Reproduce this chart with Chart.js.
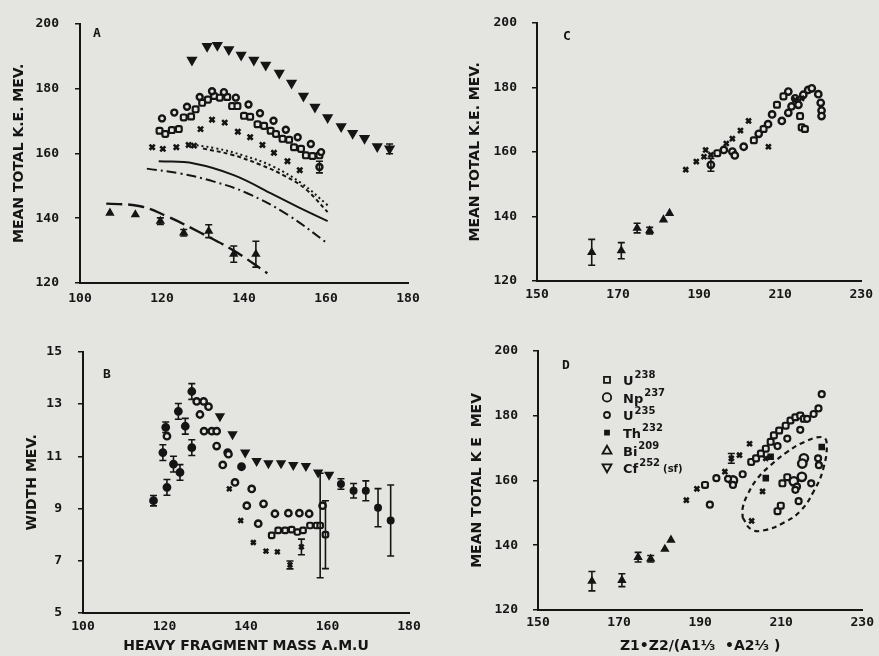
<!DOCTYPE html>
<html>
<head>
<meta charset="utf-8">
<script src="https://cdn.jsdelivr.net/npm/chart.js@4/dist/chart.umd.min.js"></script>
<style>
  body { margin: 0; background: #e4e4e0; }
  #wrap { position: relative; width: 879px; height: 656px; overflow: hidden; }
  canvas { position: absolute; }
</style>
</head>
<body>
<div id="wrap">
  <canvas id="panelA" width="440" height="320" style="left:0;top:0"></canvas>
  <canvas id="panelB" width="440" height="328" style="left:0;top:328px"></canvas>
  <canvas id="panelC" width="439" height="320" style="left:440px;top:0"></canvas>
  <canvas id="panelD" width="439" height="328" style="left:440px;top:328px"></canvas>
</div>
<script>
// ---- Panel A: mean total KE vs heavy fragment mass ----
const aCfX = [127.3, 131.0, 133.5, 136.3, 139.3, 142.4, 145.3, 148.6, 151.6, 154.5, 157.3, 160.4, 163.7, 166.5, 169.4, 172.5, 175.5];
const aCfY = [188.8, 193.1, 193.4, 192.1, 190.4, 188.8, 187.3, 184.8, 181.7, 177.7, 174.3, 171.1, 168.3, 166.2, 164.7, 162.1, 161.4];
const aCfErr = [0, 0, 0, 0, 0, 0, 0, 0, 0, 0, 0, 0, 0, 0, 0, 0, 1.5];
const aU235X = [120.0, 123.0, 126.1, 129.2, 132.2, 135.1, 138.0, 141.1, 143.9, 147.2, 150.2, 153.1, 156.3, 158.8, 158.4];
const aU235Y = [170.8, 172.6, 174.4, 177.4, 179.2, 178.9, 177.2, 175.1, 172.4, 170.1, 167.3, 165.0, 162.9, 160.4, 155.8];
const aU235Err = [0, 0, 0, 0, 0, 0, 0, 0, 0, 0, 0, 0, 0, 0, 1.8];
const aU238X = [119.4, 120.8, 122.4, 124.1, 125.3, 127.1, 128.2, 129.8, 131.2, 132.7, 134.1, 135.9, 137.1, 138.4, 140.0, 141.5, 143.3, 144.9, 146.5, 147.8, 149.4, 151.0, 152.2, 153.9, 155.1, 156.7, 158.4];
const aU238Y = [167.0, 166.0, 167.2, 167.5, 171.1, 171.4, 173.6, 175.6, 176.6, 177.7, 177.2, 177.4, 174.6, 174.6, 171.6, 171.3, 169.0, 168.5, 167.0, 166.0, 164.5, 164.2, 161.9, 161.4, 159.4, 159.2, 159.4];
const aThX = [117.6, 120.2, 123.5, 126.5, 127.8, 129.4, 132.2, 135.3, 138.5, 141.5, 144.5, 147.3, 150.6, 153.6];
const aThY = [161.9, 161.4, 161.9, 162.6, 162.4, 167.5, 170.4, 169.5, 166.7, 165.0, 162.6, 160.2, 157.6, 154.8];
const aBiX = [107.3, 113.5, 119.6, 125.3, 131.4, 137.5, 142.9];
const aBiY = [141.6, 141.1, 139.1, 135.5, 136.0, 128.9, 128.9];
const aBiErr = [0, 0, 1, 1, 2, 2.5, 4];
// theory curves
const aDottedX = [126, 133, 140, 147, 154, 160.4];
const aDottedY = [162.9, 161.6, 159.3, 156.0, 150.8, 144.0];
const aDashedX = [130, 137, 144, 150, 155, 160.4];
const aDashedY = [161.5, 159.6, 156.5, 153.0, 149.0, 141.9];
const aSolidX = [119.2, 127.8, 137.5, 147.3, 153.7, 160.4];
const aSolidY = [157.6, 156.9, 153.3, 147.2, 143.1, 139.1];
const aDashDotX = [116.3, 124.5, 132.7, 140.8, 150.6, 160.4];
const aDashDotY = [155.3, 153.8, 151.3, 147.7, 141.1, 132.2];
const aLongDashX = [106.4, 114.7, 121.2, 129.4, 137.5, 145.7];
const aLongDashY = [144.5, 143.7, 140.6, 135.5, 130.0, 123.0];

// ---- Panel B: width vs heavy fragment mass ----
const bCfX = [133.6, 136.7, 139.8, 142.6, 145.5, 148.6, 151.6, 154.7, 157.7, 160.4];
const bCfY = [12.53, 11.84, 11.14, 10.82, 10.73, 10.73, 10.67, 10.63, 10.38, 10.29];
const bTailX = [163.3, 166.4, 169.4, 172.4, 175.5];
const bTailY = [9.94, 9.68, 9.68, 9.03, 8.54];
const bTailErr = [0.2, 0.28, 0.38, 0.73, 1.36];
const bPeakX = [117.3, 119.6, 120.3, 120.6, 122.2, 123.4, 123.8, 125.1, 126.7, 126.7, 138.9];
const bPeakY = [9.30, 11.14, 12.11, 9.81, 10.70, 12.72, 10.38, 12.15, 11.33, 13.48, 10.6];
const bPeakErr = [0.2, 0.3, 0.2, 0.3, 0.3, 0.3, 0.3, 0.3, 0.3, 0.3, 0];
const bOpenX = [120.6, 127.9, 128.7, 129.6, 130.8, 129.7, 131.6, 132.8, 132.8, 135.5, 135.7, 134.3, 137.3, 140.2, 141.4, 143.0, 144.3, 147.1, 150.4, 153.1, 155.5, 158.8];
const bOpenY = [11.77, 13.1, 12.6, 13.1, 12.9, 11.96, 11.96, 11.96, 11.39, 11.14, 11.08, 10.67, 10.0, 9.11, 9.75, 8.42, 9.18, 8.80, 8.82, 8.82, 8.80, 9.11];
const bCrossX = [135.9, 138.7, 141.8, 144.9, 147.7, 150.8, 153.6];
const bCrossY = [9.75, 8.54, 7.70, 7.37, 7.34, 6.84, 7.53];
const bCrossErr = [0, 0, 0, 0, 0, 0.15, 0.3];
const bLowX = [146.3, 147.9, 149.6, 151.2, 152.6, 154.0, 155.7, 157.3, 158.2, 159.5];
const bLowY = [7.97, 8.16, 8.16, 8.19, 8.10, 8.16, 8.35, 8.35, 8.35, 8.0];
const bLowErr = [0, 0, 0, 0, 0, 0, 0, 0, 2.0, 1.3];

// ---- Panel C: mean total KE vs Z1*Z2/(A1^1/3 + A2^1/3) ----
const cBiX = [163.5, 170.8, 174.7, 177.8, 181.2, 182.7];
const cBiY = [128.9, 129.4, 136.4, 135.6, 139.0, 141.0];
const cBiErr = [4, 2.5, 1.5, 1, 0, 0];
const cCrossX = [186.7, 189.3, 191.2, 191.6, 192.9, 196.7, 198.2, 200.2, 202.2, 207.1, 213.7, 215.3];
const cCrossY = [154.5, 157.0, 158.5, 160.6, 159.1, 162.6, 164.1, 166.6, 169.6, 161.6, 176.1, 176.6];
const cCircleX = [192.9, 196.1, 198.2, 198.8, 201.0, 204.7, 207.0, 208.0, 210.4, 212.0, 212.0, 212.8, 213.7, 214.5, 215.7, 216.9, 217.8, 219.4, 220.0, 220.2, 220.2];
const cCircleY = [156.0, 160.6, 160.1, 158.9, 161.6, 165.6, 168.6, 171.6, 169.6, 178.7, 172.1, 174.1, 176.6, 174.6, 177.7, 179.2, 179.7, 177.9, 175.2, 172.8, 171.1];
const cCircleErr = [2, 0, 0, 0, 0, 0, 0, 0, 0, 0, 0, 0, 0, 0, 0, 0, 0, 0, 0, 0, 0];
const cSquareX = [194.5, 203.5, 205.9, 209.2, 210.8, 214.9, 215.3, 216.1];
const cSquareY = [159.6, 163.6, 167.1, 174.6, 177.2, 171.1, 167.6, 167.1];

// ---- Panel D: same axes, by fissioning nucleus ----
const dBiX = [163.3, 170.7, 174.7, 177.8, 181.3, 182.8];
const dBiY = [128.9, 129.2, 136.3, 135.8, 138.8, 141.6];
const dBiErr = [3, 2, 1.5, 1, 0, 0];
const dCrossX = [186.6, 189.2, 196.1, 197.7, 199.7, 202.2, 206.2, 205.4, 202.7];
const dCrossY = [153.9, 157.4, 162.7, 166.8, 167.8, 171.3, 166.8, 156.6, 147.5];
const dCrossErr = [0, 0, 0, 1.5, 0, 0, 0, 0, 0];
const dU235X = [192.4, 194.0, 196.9, 198.1, 200.5, 209.1, 211.5, 214.7, 216.4, 218.0, 219.2, 220.0, 213.9, 213.5, 214.3, 217.4, 219.1, 219.3];
const dU235Y = [152.5, 160.7, 160.5, 158.6, 161.9, 170.6, 172.9, 175.6, 179.0, 180.5, 182.2, 186.6, 158.1, 157.1, 153.6, 159.1, 166.8, 164.7];
const dU238X = [191.2, 202.6, 203.8, 205.0, 206.2, 207.4, 208.2, 209.5, 211.1, 212.3, 213.5, 214.7, 215.6, 209.1, 209.9, 211.5, 210.3];
const dU238Y = [158.6, 165.7, 166.8, 168.3, 169.8, 171.9, 173.9, 175.4, 176.9, 178.5, 179.5, 180.0, 179.0, 150.5, 152.2, 161.0, 159.1];
const dNpX = [198.1, 215.6, 215.2, 213.1, 215.1];
const dNpY = [160.0, 166.8, 165.2, 159.7, 161.1];
const dThX = [207.4, 220.0, 206.2];
const dThY = [167.3, 170.3, 160.7];
const dLoopX = [200.5, 202.6, 205.8, 210.7, 214.7, 218.0, 220.4, 221.2, 220.0, 215.6, 211.5, 207.4, 204.2, 201.7, 200.5, 200.5];
const dLoopY = [148.5, 144.9, 144.6, 147.0, 150.5, 156.6, 163.7, 171.8, 173.4, 171.8, 168.8, 164.7, 160.7, 155.6, 151.5, 148.5];

const INK = '#151515';
const BG = '#e4e4e0';
const TICK_FONT = { family: 'DejaVu Sans Mono', size: 13, weight: 'bold' };
const TITLE_FONT = { family: 'DejaVu Sans', size: 14, weight: 'bold' };

function pts(xs, ys) {
    return xs.map((x, i) => ({ x: x, y: ys[i] }));
}

function marks(xs, ys, style, extra) {
    return Object.assign({
        data: pts(xs, ys),
        pointStyle: style,
        pointRadius: 3.5,
        borderColor: INK,
        backgroundColor: INK,
        borderWidth: 2,
        showLine: false
    }, extra || {});
}

function curve(xs, ys, dash, extra) {
    return Object.assign({
        data: pts(xs, ys),
        showLine: true,
        pointRadius: 0,
        borderColor: INK,
        borderWidth: 2,
        borderDash: dash,
        tension: 0.4
    }, extra || {});
}

// vertical error bars drawn through the chart scales
const errorBars = {
    id: 'errorBars',
    afterDatasetsDraw(chart) {
        const { ctx, scales: { x, y } } = chart;
        ctx.save();
        ctx.strokeStyle = INK;
        ctx.lineWidth = 1.6;
        chart.data.datasets.forEach(ds => {
            if (!ds.errors) return;
            ds.data.forEach((p, j) => {
                const e = ds.errors[j];
                if (!e) return;
                const px = x.getPixelForValue(p.x);
                const top = y.getPixelForValue(p.y + e);
                const bot = y.getPixelForValue(p.y - e);
                ctx.beginPath();
                ctx.moveTo(px, top); ctx.lineTo(px, bot);
                ctx.moveTo(px - 3.5, top); ctx.lineTo(px + 3.5, top);
                ctx.moveTo(px - 3.5, bot); ctx.lineTo(px + 3.5, bot);
                ctx.stroke();
            });
        });
        ctx.restore();
    }
};

// panel letter in the corner
const panelLabel = {
    id: 'panelLabel',
    afterDraw(chart, args, opts) {
        if (!opts.text) return;
        const ctx = chart.ctx;
        ctx.save();
        ctx.fillStyle = INK;
        ctx.font = 'bold 13px "DejaVu Sans Mono"';
        ctx.textBaseline = 'middle';
        ctx.fillText(opts.text, chart.chartArea.left + opts.dx, chart.chartArea.top + opts.dy);
        ctx.restore();
    }
};

// small key glyphs for panel D
function keyGlyph(ctx, kind, x, y) {
    ctx.beginPath();
    if (kind === 'square') {
        ctx.rect(x - 3, y - 3, 6, 6);
    } else if (kind === 'bigCircle') {
        ctx.arc(x, y, 4.2, 0, Math.PI * 2);
    } else if (kind === 'circle') {
        ctx.arc(x, y, 3, 0, Math.PI * 2);
    } else if (kind === 'dot') {
        ctx.rect(x - 2, y - 2, 4, 4);
    } else if (kind === 'up') {
        ctx.moveTo(x, y - 4.5); ctx.lineTo(x + 4.5, y + 3.5); ctx.lineTo(x - 4.5, y + 3.5); ctx.closePath();
    } else {
        ctx.moveTo(x, y + 4.5); ctx.lineTo(x + 4.5, y - 3.5); ctx.lineTo(x - 4.5, y - 3.5); ctx.closePath();
    }
    ctx.fillStyle = kind === 'dot' ? INK : BG;
    ctx.fill();
    ctx.stroke();
}

const isotopeKey = {
    id: 'isotopeKey',
    afterDraw(chart, args, opts) {
        if (!opts.rows) return;
        const ctx = chart.ctx;
        ctx.save();
        ctx.strokeStyle = INK;
        ctx.lineWidth = 1.8;
        opts.rows.forEach((row, i) => {
            const yy = chart.chartArea.top + opts.dy + i * 17.6;
            const xx = chart.chartArea.left + opts.dx;
            keyGlyph(ctx, row.glyph, xx, yy);
            ctx.fillStyle = INK;
            ctx.textBaseline = 'middle';
            ctx.font = 'bold 13px "DejaVu Sans"';
            ctx.fillText(row.name, xx + 16, yy + 2);
            const w = ctx.measureText(row.name).width;
            ctx.font = 'bold 10px "DejaVu Sans"';
            ctx.fillText(row.mass, xx + 17 + w, yy - 4);
            if (row.tail) {
                const w2 = ctx.measureText(row.mass).width;
                ctx.fillText(row.tail, xx + 20 + w + w2, yy + 2);
            }
        });
        ctx.restore();
    }
};

function axes(o) {
    return {
        x: {
            type: 'linear',
            min: o.xmin, max: o.xmax,
            afterFit: s => { s.height = o.xh; },
            border: { display: true, color: INK, width: 2 },
            grid: { display: false, drawTicks: false },
            ticks: { stepSize: 20, color: INK, font: TICK_FONT, padding: o.xpad, maxRotation: 0 },
            title: o.xtitle ? {
                display: true, text: o.xtitle, color: INK, font: TITLE_FONT, padding: { top: 0, bottom: 1 }
            } : { display: false }
        },
        y: {
            type: 'linear',
            min: o.ymin, max: o.ymax,
            afterFit: s => { s.width = o.yw; },
            border: { display: true, color: INK, width: 2 },
            grid: { drawOnChartArea: false, color: INK, lineWidth: 1.5, tickLength: 5 },
            ticks: { stepSize: o.ystep, color: INK, font: TICK_FONT, padding: o.ypad },
            title: { display: true, text: o.ytitle, color: INK, font: TITLE_FONT, padding: { top: o.ytpad, bottom: 0 } }
        }
    };
}

function makePanel(id, datasets, o, extraPlugins) {
    new Chart(document.getElementById(id), {
        type: 'scatter',
        data: { datasets: datasets },
        options: {
            responsive: false,
            animation: false,
            layout: { padding: o.pad },
            scales: axes(o),
            plugins: Object.assign({
                legend: { display: false },
                tooltip: { enabled: false },
                panelLabel: o.label
            }, extraPlugins || {})
        },
        plugins: [errorBars, panelLabel, isotopeKey]
    });
}

makePanel('panelA', [
    marks(aCfX, aCfY, 'triangle', { rotation: 180, pointRadius: 4.5, errors: aCfErr }),
    marks(aU235X, aU235Y, 'circle', { backgroundColor: BG, pointRadius: 3, borderWidth: 2.4, errors: aU235Err }),
    marks(aU238X, aU238Y, 'rectRounded', { backgroundColor: BG, pointRadius: 3.4, borderWidth: 2.2 }),
    marks(aThX, aThY, 'crossRot', { pointRadius: 3.6, borderWidth: 2.6 }),
    marks(aBiX, aBiY, 'triangle', { pointRadius: 3.4, errors: aBiErr }),
    curve(aDottedX, aDottedY, [2, 3]),
    curve(aDashedX, aDashedY, [4, 3]),
    curve(aSolidX, aSolidY, []),
    curve(aDashDotX, aDashDotY, [10, 4, 2, 4]),
    curve(aLongDashX, aLongDashY, [16, 6], { borderWidth: 2.4 })
], {
    pad: { left: 0, top: 20, right: 32, bottom: 0 },
    xmin: 100, xmax: 180, ymin: 120, ymax: 200, ystep: 20,
    xh: 37, yw: 80, xpad: 8, ypad: 16, ytpad: 11,
    ytitle: 'MEAN TOTAL K.E. MEV.',
    label: { text: 'A', dx: 13, dy: 10 }
});

makePanel('panelB', [
    marks(bCfX, bCfY, 'triangle', { rotation: 180, pointRadius: 4 }),
    marks(bTailX, bTailY, 'circle', { pointRadius: 3, errors: bTailErr }),
    marks(bPeakX, bPeakY, 'circle', { pointRadius: 3.4, errors: bPeakErr }),
    marks(bOpenX, bOpenY, 'circle', { backgroundColor: BG, pointRadius: 3.2, borderWidth: 2.4 }),
    marks(bCrossX, bCrossY, 'crossRot', { pointRadius: 3.2, borderWidth: 2.6, errors: bCrossErr }),
    marks(bLowX, bLowY, 'rectRounded', { backgroundColor: BG, pointRadius: 3.2, borderWidth: 2.2, errors: bLowErr })
], {
    pad: { left: 0, top: 22, right: 31, bottom: 0 },
    xmin: 100, xmax: 180, ymin: 5, ymax: 15, ystep: 2,
    xh: 43, yw: 83, xpad: 6, ypad: 16, ytpad: 24,
    ytitle: 'WIDTH MEV.',
    xtitle: 'HEAVY FRAGMENT MASS A.M.U',
    label: { text: 'B', dx: 20, dy: 23 }
});

makePanel('panelC', [
    marks(cBiX, cBiY, 'triangle', { pointRadius: 3.4, errors: cBiErr }),
    marks(cCrossX, cCrossY, 'crossRot', { pointRadius: 3.4, borderWidth: 2.6 }),
    marks(cCircleX, cCircleY, 'circle', { backgroundColor: BG, pointRadius: 3.2, borderWidth: 2.4, errors: cCircleErr }),
    marks(cSquareX, cSquareY, 'rectRounded', { backgroundColor: BG, pointRadius: 3.4, borderWidth: 2.2 })
], {
    pad: { left: 0, top: 16, right: 16, bottom: 0 },
    xmin: 150, xmax: 230, ymin: 120, ymax: 200, ystep: 20,
    xh: 39, yw: 97, xpad: 6, ypad: 15, ytpad: 27,
    ytitle: 'MEAN TOTAL K.E. MEV.',
    label: { text: 'C', dx: 26, dy: 14 }
});

makePanel('panelD', [
    marks(dBiX, dBiY, 'triangle', { pointRadius: 3.4, errors: dBiErr }),
    marks(dCrossX, dCrossY, 'crossRot', { pointRadius: 3.4, borderWidth: 2.6, errors: dCrossErr }),
    marks(dU235X, dU235Y, 'circle', { backgroundColor: BG, pointRadius: 3, borderWidth: 2.2 }),
    marks(dU238X, dU238Y, 'rectRounded', { backgroundColor: BG, pointRadius: 3.4, borderWidth: 2.2 }),
    marks(dNpX, dNpY, 'circle', { backgroundColor: BG, pointRadius: 4.2, borderWidth: 2.4 }),
    marks(dThX, dThY, 'rect', { pointRadius: 3.2 }),
    curve(dLoopX, dLoopY, [5, 4], { borderWidth: 2.2, tension: 0.45 })
], {
    pad: { left: 0, top: 20, right: 13, bottom: 0 },
    xmin: 150, xmax: 230, ymin: 120, ymax: 200, ystep: 20,
    xh: 46, yw: 98, xpad: 5, ypad: 15, ytpad: 29,
    ytitle: 'MEAN TOTAL K E  MEV',
    xtitle: 'Z1•Z2/(A1⅓  •A2⅓ )',
    label: { text: 'D', dx: 24, dy: 15 }
}, {
    isotopeKey: {
        dx: 69, dy: 29,
        rows: [
            { glyph: 'square', name: 'U', mass: '238' },
            { glyph: 'bigCircle', name: 'Np', mass: '237' },
            { glyph: 'circle', name: 'U', mass: '235' },
            { glyph: 'dot', name: 'Th', mass: '232' },
            { glyph: 'up', name: 'Bi', mass: '209' },
            { glyph: 'down', name: 'Cf', mass: '252', tail: '(sf)' }
        ]
    }
});
</script>
</body>
</html>
